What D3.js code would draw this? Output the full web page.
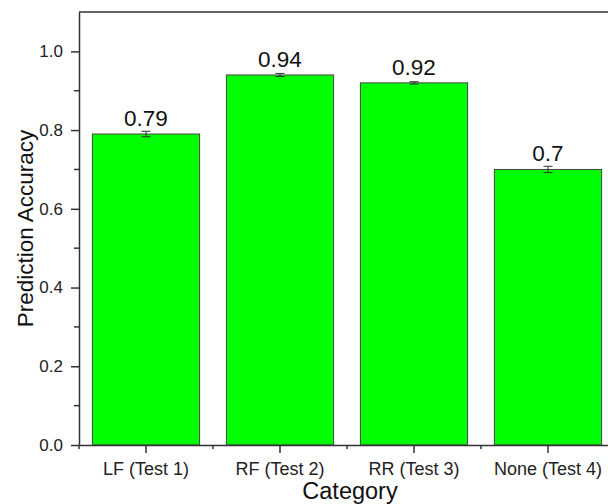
<!DOCTYPE html>
<html>
<head>
<meta charset="utf-8">
<script src="https://cdn.jsdelivr.net/npm/d3@7"></script>
<style>
  body { margin: 0; background: #fff; }
  svg { display: block; font-family: Arial, "Liberation Sans", sans-serif; }
</style>
</head>
<body>
<svg id="chart"></svg>
<script>
const width = 608;
const height = 504;

// data
const categories = ["LF (Test 1)", "RF (Test 2)", "RR (Test 3)", "None (Test 4)"];
const accuracy = [0.79, 0.94, 0.92, 0.70];
const errors = [0.007, 0.004, 0.003, 0.008];
const valueLabels = ["0.79", "0.94", "0.92", "0.7"];
const yMajorTicks = [0.0, 0.2, 0.4, 0.6, 0.8, 1.0];
const yMinorTicks = [0.1, 0.3, 0.5, 0.7, 0.9];

// plot box runs a little past the right edge of the window
const margin = {top: 12, left: 79};
const plotW = 536;
const plotH = 433;

const svg = d3.select("#chart")
  .attr("width", width)
  .attr("height", height);

const g = svg.append("g")
  .attr("transform", `translate(${margin.left},${margin.top})`);

const x = d3.scaleBand()
  .domain(categories)
  .range([0, plotW])
  .paddingInner(0.2)
  .paddingOuter(0.1);

const y = d3.scaleLinear()
  .domain([0, 1.1])
  .range([plotH, 0]);

const data = categories.map((c, i) => ({
  cat: c, value: accuracy[i], err: errors[i], label: valueLabels[i]
}));

// --- bars ---
g.selectAll("rect.bar")
  .data(data)
  .join("rect")
  .attr("class", "bar")
  .attr("x", d => x(d.cat))
  .attr("y", d => y(d.value))
  .attr("width", x.bandwidth())
  .attr("height", d => y(0) - y(d.value))
  .attr("fill", "#00ff00")
  .attr("stroke", "#444")
  .attr("stroke-width", 1);

// --- error bars ---
const cx = d => x(d.cat) + x.bandwidth() / 2;
const capW = 4.5;
const errG = g.selectAll("g.err")
  .data(data)
  .join("g")
  .attr("class", "err")
  .attr("stroke", "#333")
  .attr("stroke-width", 1);

errG.append("line")
  .attr("x1", cx).attr("x2", cx)
  .attr("y1", d => y(d.value + d.err))
  .attr("y2", d => y(d.value - d.err));
errG.append("line")
  .attr("x1", d => cx(d) - capW).attr("x2", d => cx(d) + capW)
  .attr("y1", d => y(d.value + d.err)).attr("y2", d => y(d.value + d.err));
errG.append("line")
  .attr("x1", d => cx(d) - capW).attr("x2", d => cx(d) + capW)
  .attr("y1", d => y(d.value - d.err)).attr("y2", d => y(d.value - d.err));

// --- value labels ---
g.selectAll("text.val")
  .data(data)
  .join("text")
  .attr("class", "val")
  .attr("x", cx)
  .attr("y", d => y(d.value) - 8)
  .attr("text-anchor", "middle")
  .attr("font-size", 22.5)
  .attr("fill", "#111")
  .text(d => d.label);

// --- frame (top and right) ---
g.append("line")
  .attr("x1", 0).attr("x2", plotW)
  .attr("y1", 0).attr("y2", 0)
  .attr("stroke", "#333").attr("stroke-width", 1.5);
g.append("line")
  .attr("x1", plotW).attr("x2", plotW)
  .attr("y1", 0).attr("y2", plotH)
  .attr("stroke", "#333").attr("stroke-width", 1.5);

// --- y axis ---
const yAxis = g.append("g")
  .call(d3.axisLeft(y)
    .tickValues(yMajorTicks)
    .tickFormat(d3.format(".1f"))
    .tickSize(8)
    .tickSizeOuter(0)
    .tickPadding(8));

g.append("g")
  .selectAll("line")
  .data(yMinorTicks)
  .join("line")
  .attr("x1", -5).attr("x2", 0)
  .attr("y1", d => y(d)).attr("y2", d => y(d))
  .attr("stroke", "#333").attr("stroke-width", 1.5);

yAxis.selectAll("text").attr("font-size", 17).attr("fill", "#222")
  .attr("font-family", "Arial, 'Liberation Sans', sans-serif");

// --- x axis ---
const xAxis = g.append("g")
  .attr("transform", `translate(0,${plotH})`)
  .call(d3.axisBottom(x)
    .tickSize(8)
    .tickSizeOuter(0)
    .tickPadding(9));

const xMinor = [0].concat(categories.map(c => x(c) + x.bandwidth() + x.step() * x.paddingInner() / 2));
g.append("g")
  .selectAll("line")
  .data(xMinor)
  .join("line")
  .attr("x1", d => d).attr("x2", d => d)
  .attr("y1", plotH).attr("y2", plotH + 4)
  .attr("stroke", "#333").attr("stroke-width", 1.5);

xAxis.selectAll("text").attr("font-size", 18).attr("fill", "#222")
  .attr("font-family", "Arial, 'Liberation Sans', sans-serif");

[yAxis, xAxis].forEach(a => {
  a.select(".domain").attr("stroke", "#333").attr("stroke-width", 1.5);
  a.selectAll(".tick line").attr("stroke", "#333").attr("stroke-width", 1.5);
});

// --- axis titles ---
svg.append("text")
  .attr("transform", `translate(33,${margin.top + plotH / 2}) rotate(-90)`)
  .attr("text-anchor", "middle")
  .attr("font-size", 22.5)
  .attr("fill", "#111")
  .text("Prediction Accuracy");

svg.append("text")
  .attr("x", 350)
  .attr("y", 499)
  .attr("text-anchor", "middle")
  .attr("font-size", 23.5)
  .attr("fill", "#111")
  .text("Category");
</script>
</body>
</html>
